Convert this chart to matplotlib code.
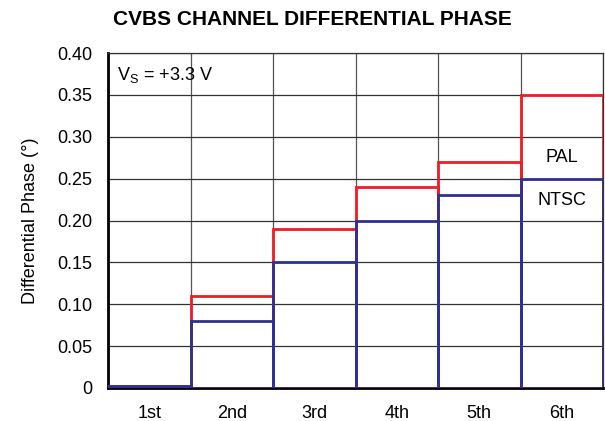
import matplotlib.pyplot as plt
import numpy as np

plt.rcParams['font.family'] = ['Liberation Sans', 'DejaVu Sans']

categories = ['1st', '2nd', '3rd', '4th', '5th', '6th']
pal = [0.002, 0.11, 0.19, 0.24, 0.27, 0.35]
ntsc = [0.002, 0.08, 0.15, 0.20, 0.23, 0.25]

fig = plt.figure(figsize=(6.05, 4.21), dpi=100)
ax = fig.add_axes([108 / 605, 1 - 388 / 421, 495 / 605, 335 / 421])

x = np.arange(len(categories))
ax.bar(x, pal, width=1.0, fill=False, edgecolor='#ee1c25', linewidth=2, zorder=3)
ax.bar(x, ntsc, width=1.0, fill=False, edgecolor='#2e3192', linewidth=2, zorder=4)

ax.set_xlim(-0.5, 5.5)
ax.set_ylim(0, 0.40)
ax.set_xticks(x)
ax.set_xticklabels(categories)
ax.set_xticks(np.arange(-0.5, 5.6, 1), minor=True)
ax.set_yticks(np.arange(0, 0.401, 0.05))
ax.set_yticklabels(['0'] + ['%.2f' % v for v in np.arange(0.05, 0.401, 0.05)])
ax.tick_params(axis='both', which='both', length=0, labelsize=13)
ax.tick_params(axis='x', pad=12)
ax.tick_params(axis='y', pad=11.5)
ax.grid(True, which='minor', axis='x', color='#555555', linewidth=0.9)
ax.grid(True, which='major', axis='y', color='#333333', linewidth=0.9)
for s in ['top', 'right']:
    ax.spines[s].set_linewidth(0.9)
    ax.spines[s].set_color('#333333')
ax.spines['left'].set_linewidth(2)
ax.spines['bottom'].set_linewidth(2)

ax.set_ylabel('Differential Phase (°)', fontsize=13, labelpad=13)
ax.text(0.018, 0.965, r'V$_\mathregular{S}$ = +3.3 V', transform=ax.transAxes,
        fontsize=13, va='top')
ax.text(5, 0.275, 'PAL', ha='center', va='center', fontsize=13)
ax.text(5, 0.224, 'NTSC', ha='center', va='center', fontsize=13)

fig.text(0.516, 0.954, 'CVBS CHANNEL DIFFERENTIAL PHASE', ha='center', va='center',
         fontsize=15, fontweight='bold')

fig.savefig('out.png', dpi=100)
